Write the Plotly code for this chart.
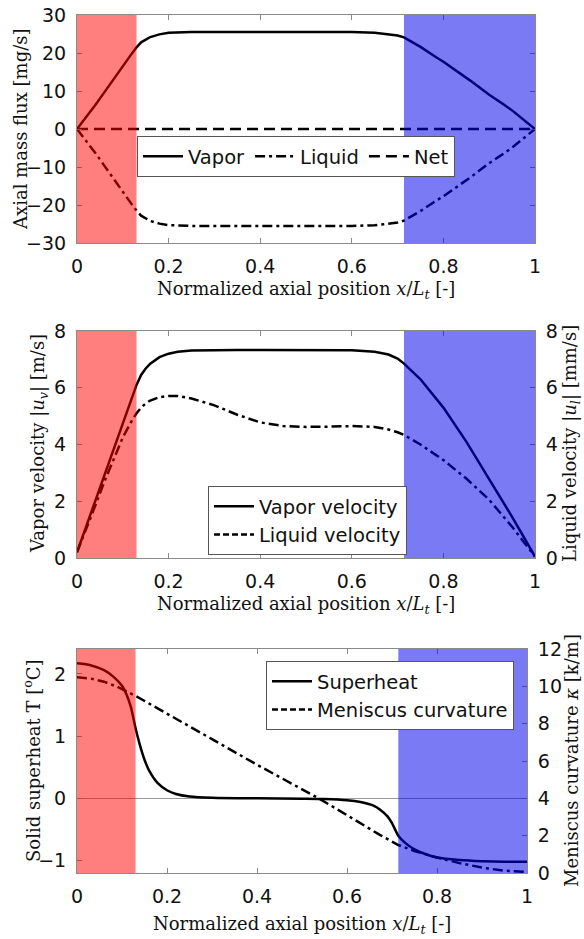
import plotly.graph_objects as go

# ---------------- data ----------------
# Panel 1: axial mass flux [mg/s]
x_flux = [0, 0.02, 0.04, 0.06, 0.08, 0.10, 0.12, 0.13, 0.14, 0.16, 0.18, 0.20, 0.22,
          0.25, 0.30, 0.40, 0.50, 0.60, 0.65, 0.68, 0.70, 0.714, 0.75, 0.785, 0.80,
          0.858, 0.90, 0.931, 0.95, 1.0]
vapor_flux = [0, 3.0, 6.3, 9.7, 13.2, 16.6, 19.9, 21.5, 22.8, 24.2, 24.9, 25.3, 25.45,
              25.5, 25.55, 25.55, 25.55, 25.5, 25.35, 25.0, 24.6, 24.1, 21.6, 18.8, 17.7,
              12.8, 9.0, 6.5, 4.9, 0]
liquid_flux = [-v for v in vapor_flux]
net_flux = [0 for v in vapor_flux]

# Panel 2: velocities
x_vel = [0, 0.02, 0.04, 0.06, 0.08, 0.10, 0.12, 0.13, 0.14, 0.15, 0.16, 0.18, 0.20, 0.21,
         0.22, 0.25, 0.30, 0.35, 0.40, 0.45, 0.50, 0.55, 0.60, 0.65, 0.68, 0.70, 0.714,
         0.75, 0.80, 0.85, 0.90, 0.95, 1.0]
vapor_vel = [0.2, 1.1, 2.0, 2.9, 3.8, 4.7, 5.6, 6.1, 6.45, 6.68, 6.85, 7.08, 7.2, 7.24,
             7.27, 7.31, 7.33, 7.33, 7.33, 7.33, 7.33, 7.33, 7.32, 7.27, 7.17, 7.03, 6.85,
             6.3, 5.3, 4.1, 2.8, 1.45, 0.05]
liquid_vel = [0.2, 1.0, 1.85, 2.7, 3.5, 4.25, 4.85, 5.1, 5.3, 5.45, 5.55, 5.67, 5.71, 5.72,
              5.71, 5.62, 5.38, 5.05, 4.78, 4.65, 4.62, 4.63, 4.65, 4.62, 4.53, 4.43, 4.34,
              4.0, 3.45, 2.8, 2.05, 1.1, 0.05]

# Panel 3: superheat and curvature
x_sh = [0, 0.03, 0.06, 0.08, 0.10, 0.11, 0.12, 0.13, 0.14, 0.15, 0.16, 0.18, 0.20, 0.22,
        0.25, 0.30, 0.40, 0.50, 0.55, 0.60, 0.63, 0.66, 0.673, 0.69, 0.70, 0.714, 0.73,
        0.75, 0.78, 0.80, 0.85, 0.90, 0.95, 1.0]
superheat = [2.17, 2.14, 2.06, 1.96, 1.81, 1.67, 1.46, 1.13, 0.85, 0.62, 0.45, 0.24, 0.13,
             0.07, 0.03, 0.01, 0.0, -0.005, -0.01, -0.03, -0.06, -0.12, -0.18, -0.29, -0.4,
             -0.6, -0.72, -0.82, -0.91, -0.95, -0.99, -1.01, -1.02, -1.02]
x_k = [0, 0.03, 0.06, 0.09, 0.13, 0.20, 0.30, 0.40, 0.50, 0.54, 0.60, 0.673, 0.714, 0.75,
       0.80, 0.85, 0.90, 0.95, 1.0]
curvature = [10.48, 10.42, 10.25, 9.97, 9.49, 8.55, 7.17, 5.8, 4.5, 3.96, 3.1, 2.04, 1.5,
             1.18, 0.83, 0.53, 0.29, 0.12, 0.06]

# zones
evap_end = 0.13
cond_start = 0.714

x_ticks = [0, 0.2, 0.4, 0.6, 0.8, 1]
x_ticktext = ["0", "0.2", "0.4", "0.6", "0.8", "1"]

# ---------------- figure ----------------
W, H = 584, 939
def px(v):
    return v / W
def py(v):
    return (H - v) / H

FRAME = "#8a8a8a"
TICKFONT = dict(family="DejaVu Sans, Arial, sans-serif", size=19, color="#111")
TITLEFONT = dict(family="DejaVu Serif, serif", size=18, color="#111")
LEGFONT = dict(family="DejaVu Sans, Arial, sans-serif", size=19.5, color="#111")
LW = 2.5

fig = go.Figure()

# Panel 1
fig.add_trace(go.Scatter(x=x_flux, y=vapor_flux, mode="lines", name="Vapor",
                         line=dict(color="black", width=LW), xaxis="x", yaxis="y",
                         legend="legend"))
fig.add_trace(go.Scatter(x=x_flux, y=liquid_flux, mode="lines", name="Liquid",
                         line=dict(color="black", width=LW, dash="10px,4px,3px,4px"),
                         xaxis="x", yaxis="y", legend="legend"))
fig.add_trace(go.Scatter(x=x_flux, y=net_flux, mode="lines", name="Net",
                         line=dict(color="black", width=LW, dash="11px,6px"),
                         xaxis="x", yaxis="y", legend="legend"))

# Panel 2
fig.add_trace(go.Scatter(x=x_vel, y=vapor_vel, mode="lines", name="Vapor velocity",
                         line=dict(color="black", width=LW), xaxis="x2", yaxis="y2",
                         legend="legend2"))
fig.add_trace(go.Scatter(x=x_vel, y=liquid_vel, mode="lines", name="Liquid velocity",
                         line=dict(color="black", width=LW, dash="10px,4px,3px,4px"),
                         xaxis="x2", yaxis="y3", showlegend=False, legend="legend2"))
fig.add_trace(go.Scatter(x=[None], y=[None], mode="lines", name="Liquid velocity",
                         line=dict(color="black", width=LW, dash="6px,3px"),
                         xaxis="x2", yaxis="y3", legend="legend2"))

# Panel 3
fig.add_trace(go.Scatter(x=x_sh, y=superheat, mode="lines", name="Superheat",
                         line=dict(color="black", width=LW, shape="spline", smoothing=0.6),
                         xaxis="x3", yaxis="y4", legend="legend3"))
fig.add_trace(go.Scatter(x=x_k, y=curvature, mode="lines", name="Meniscus curvature",
                         line=dict(color="black", width=LW, dash="10px,4px,3px,4px"),
                         xaxis="x3", yaxis="y5", showlegend=False, legend="legend3"))
fig.add_trace(go.Scatter(x=[None], y=[None], mode="lines", name="Meniscus curvature",
                         line=dict(color="black", width=LW, dash="6px,3px"),
                         xaxis="x3", yaxis="y5", legend="legend3"))

# shaded zones (drawn above the lines, semi-transparent)
for xr, yr in [("x", "y"), ("x2", "y2"), ("x3", "y4")]:
    fig.add_shape(type="rect", xref=xr, yref=yr + " domain", x0=0, x1=evap_end, y0=0, y1=1,
                  fillcolor="rgb(255,0,0)", opacity=0.5, line=dict(width=0), layer="above")
    fig.add_shape(type="rect", xref=xr, yref=yr + " domain", x0=cond_start, x1=1, y0=0, y1=1,
                  fillcolor="rgb(0,0,235)", opacity=0.52, line=dict(width=0), layer="above")

xcommon = dict(range=[0, 1], tickvals=x_ticks, ticktext=x_ticktext, ticks="inside",
               ticklen=5, tickcolor=FRAME, showline=True, linecolor=FRAME, linewidth=1,
               mirror="ticks", showgrid=False, zeroline=False, tickfont=TICKFONT,
               ticklabelstandoff=6, automargin=False)
ycommon = dict(ticks="inside", ticklen=5, tickcolor=FRAME, showline=True, linecolor=FRAME,
               linewidth=1, showgrid=False, zeroline=False, tickfont=TICKFONT,
               ticklabelstandoff=6, automargin=False)

d12 = [px(77), px(535)]
d3 = [px(77), px(527)]

fig.update_layout(
    width=W, height=H, margin=dict(l=0, r=0, t=0, b=0, autoexpand=False),
    paper_bgcolor="white", plot_bgcolor="white",
    xaxis=dict(domain=d12, anchor="y", **xcommon),
    yaxis=dict(domain=[py(243), py(15)], anchor="x", range=[-30, 30],
               tickvals=[-30, -20, -10, 0, 10, 20, 30], mirror="ticks", **ycommon),
    xaxis2=dict(domain=d12, anchor="y2", **xcommon),
    yaxis2=dict(domain=[py(558), py(331)], anchor="x2", range=[0, 8],
                tickvals=[0, 2, 4, 6, 8], **ycommon),
    yaxis3=dict(overlaying="y2", side="right", anchor="x2", range=[0, 8],
                tickvals=[0, 2, 4, 6, 8], **ycommon),
    xaxis3=dict(domain=d3, anchor="y4", **xcommon),
    yaxis4=dict(domain=[py(873), py(649)], anchor="x3", range=[-1.2, 2.4],
                tickvals=[-1, 0, 1, 2], **{**ycommon, "zeroline": True,
                "zerolinecolor": "#9a9a9a", "zerolinewidth": 1}),
    yaxis5=dict(overlaying="y4", side="right", anchor="x3", range=[0, 12],
                tickvals=[0, 2, 4, 6, 8, 10, 12], **ycommon),
    legend=dict(x=px(137), y=py(136), xanchor="left", yanchor="top", orientation="h",
                bgcolor="white", bordercolor="#555", borderwidth=1, font=LEGFONT,
                itemwidth=40, tracegroupgap=0),
    legend2=dict(x=px(208), y=py(486), xanchor="left", yanchor="top",
                 bgcolor="white", bordercolor="#555", borderwidth=1, font=LEGFONT,
                 itemwidth=40, tracegroupgap=0),
    legend3=dict(x=px(266), y=py(661), xanchor="left", yanchor="top",
                 bgcolor="white", bordercolor="#555", borderwidth=1, font=LEGFONT,
                 itemwidth=40, tracegroupgap=0),
)

xtitle = "Normalized axial position <i>x</i>/<i>L<sub>t</sub></i> [-]"
ann = [
    (px(306), py(290), xtitle, 0),
    (px(306), py(605), xtitle, 0),
    (px(302), py(925), xtitle, 0),
    (px(20), py(129), "Axial mass flux [mg/s]", -90),
    (px(39), py(444), "Vapor velocity |<i>u<sub>v</sub></i>| [m/s]", -90),
    (px(571), py(444), "Liquid velocity |<i>u<sub>l</sub></i>| [mm/s]", -90),
    (px(32), py(761), "Solid superheat T [<sup>o</sup>C]", -90),
    (px(571), py(761), "Meniscus curvature <i>κ</i> [k/m]", -90),
]
for x, y, t, a in ann:
    fig.add_annotation(x=x, y=y, xref="paper", yref="paper", text=t, textangle=a,
                       showarrow=False, font=TITLEFONT, xanchor="center", yanchor="middle")

fig.write_html("out.html", config={"displayModeBar": False},
               post_script="document.body.style.margin='0';document.body.style.padding='0';"
                           "document.body.style.overflow='hidden';")
